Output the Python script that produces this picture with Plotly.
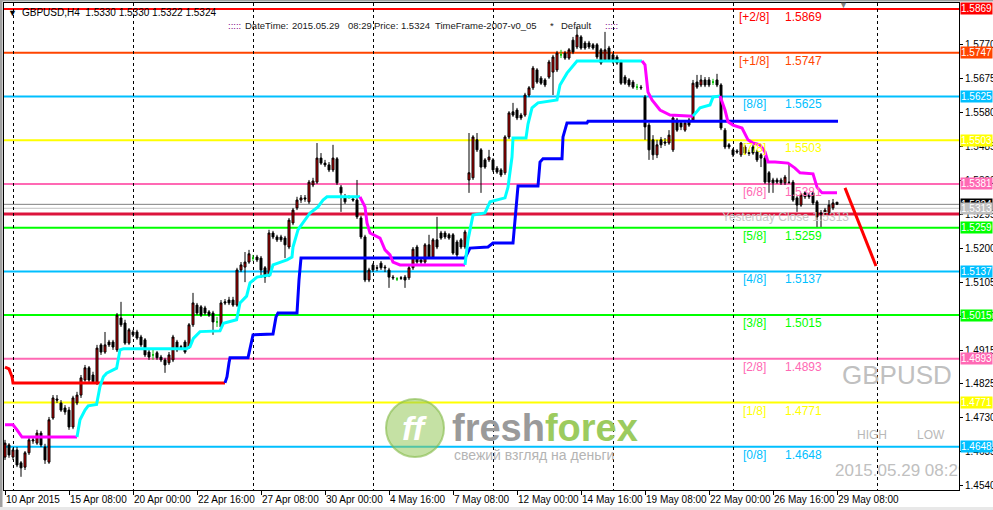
import plotly.graph_objects as go

# ---------------- DATA ----------------
bars = list(range(209))

opens = [1.4619,1.4653,1.4619,1.4639,1.4603,1.4591,1.4631,1.4664,1.4658,1.4686,
1.4647,1.4605,1.4728,1.4781,1.4770,1.4756,1.4750,1.4703,1.4770,1.4792,
1.4834,1.4868,1.4848,1.4826,1.4932,1.4912,1.4940,1.4940,1.4918,1.5007,
1.4993,1.4937,1.4968,1.4968,1.4954,1.4946,1.4912,1.4904,1.4910,1.4898,
1.4890,1.4882,1.4890,1.4940,1.4927,1.4940,1.4926,1.4988,1.5043,1.5038,
1.5035,1.5024,1.5021,1.4996,1.4982,1.5052,1.5057,1.5057,1.5043,1.5141,
1.5149,1.5163,1.5174,1.5177,1.5174,1.5147,1.5127,1.5244,1.5233,1.5233,
1.5230,1.5205,1.5272,1.5314,1.5336,1.5342,1.5331,1.5378,1.5386,1.5453,
1.5439,1.5434,1.5420,1.5451,1.5372,1.5345,1.5345,1.5339,1.5336,1.5286,
1.5233,1.5113,1.5155,1.5147,1.5160,1.5149,1.5141,1.5121,1.5116,1.5119,
1.5121,1.5119,1.5147,1.5205,1.5169,1.5163,1.5211,1.5177,1.5225,1.5244,
1.5244,1.5239,1.5239,1.5219,1.5225,1.5205,1.5392,1.5398,1.5504,1.5476,
1.5448,1.5448,1.5448,1.5425,1.5420,1.5412,1.5512,1.5582,1.5587,1.5573,
1.5573,1.5629,1.5649,1.5699,1.5676,1.5671,1.5679,1.5693,1.5699,1.5741,
1.5746,1.5732,1.5782,1.5763,1.5791,1.5774,1.5774,1.5769,1.5769,1.5755,
1.5727,1.5760,1.5741,1.5735,1.5721,1.5679,1.5671,1.5665,1.5651,1.5651,
1.5623,1.5545,1.5504,1.5462,1.5504,1.5498,1.5495,1.5476,1.5559,1.5551,
1.5531,1.5559,1.5559,1.5665,1.5657,1.5671,1.5671,1.5665,1.5671,1.5657,
1.5531,1.5490,1.5476,1.5473,1.5462,1.5484,1.5468,1.5484,1.5470,1.5462,
1.5453,1.5412,1.5392,1.5392,1.5392,1.5384,1.5386,1.5386,1.5342,1.5322,
1.5356,1.5350,1.5356,1.5331,1.5300,1.5300,1.5300,1.5314,1.5330]

highs = [1.4667,1.4658,1.4645,1.4647,1.4608,1.4636,1.4675,1.4678,1.4695,1.4692,
1.4656,1.4731,1.4792,1.4792,1.4778,1.4764,1.4759,1.4790,1.4801,1.4848,
1.4876,1.4873,1.4857,1.4932,1.4937,1.4968,1.4946,1.4946,1.5021,1.5052,
1.5002,1.4979,1.4974,1.4974,1.4960,1.4951,1.4918,1.4918,1.4915,1.4904,
1.4896,1.4912,1.4960,1.4946,1.4932,1.4946,1.4993,1.5077,1.5049,1.5043,
1.5041,1.5029,1.5027,1.5010,1.5057,1.5060,1.5066,1.5066,1.5147,1.5163,
1.5191,1.5197,1.5183,1.5183,1.5180,1.5152,1.5253,1.5250,1.5239,1.5239,
1.5236,1.5286,1.5314,1.5345,1.5350,1.5350,1.5392,1.5398,1.5495,1.5467,
1.5448,1.5442,1.5490,1.5456,1.5378,1.5353,1.5350,1.5345,1.5392,1.5292,
1.5239,1.5147,1.5160,1.5155,1.5166,1.5155,1.5147,1.5127,1.5121,1.5124,
1.5127,1.5152,1.5205,1.5211,1.5174,1.5216,1.5239,1.5230,1.5289,1.5250,
1.5250,1.5244,1.5244,1.5225,1.5230,1.5253,1.5523,1.5517,1.5523,1.5481,
1.5453,1.5476,1.5453,1.5431,1.5425,1.5517,1.5584,1.5607,1.5593,1.5579,
1.5635,1.5654,1.5710,1.5704,1.5682,1.5676,1.5727,1.5741,1.5752,1.5755,
1.5752,1.5760,1.5791,1.5819,1.5796,1.5780,1.5780,1.5774,1.5774,1.5760,
1.5805,1.5766,1.5746,1.5741,1.5727,1.5685,1.5676,1.5671,1.5660,1.5657,
1.5629,1.5551,1.5517,1.5504,1.5512,1.5509,1.5531,1.5573,1.5565,1.5559,
1.5559,1.5565,1.5671,1.5685,1.5685,1.5679,1.5679,1.5674,1.5688,1.5662,
1.5537,1.5495,1.5481,1.5478,1.5498,1.5490,1.5476,1.5490,1.5476,1.5467,
1.5459,1.5417,1.5398,1.5398,1.5398,1.5406,1.5434,1.5392,1.5347,1.5356,
1.5361,1.5356,1.5361,1.5336,1.5308,1.5314,1.5336,1.5339,1.5330]

lows = [1.4611,1.4617,1.4611,1.4591,1.4564,1.4583,1.4625,1.4656,1.4653,1.4647,
1.4600,1.4600,1.4723,1.4770,1.4745,1.4737,1.4695,1.4697,1.4764,1.4784,
1.4829,1.4826,1.4823,1.4820,1.4904,1.4907,1.4926,1.4918,1.4912,1.4982,
1.4932,1.4932,1.4954,1.4946,1.4926,1.4898,1.4890,1.4890,1.4890,1.4884,
1.4854,1.4876,1.4884,1.4912,1.4921,1.4907,1.4921,1.4982,1.5015,1.5010,
1.5015,1.5010,1.4960,1.4982,1.4976,1.5043,1.5043,1.5038,1.5038,1.5135,
1.5107,1.5158,1.5166,1.5163,1.5119,1.5105,1.5121,1.5227,1.5219,1.5219,
1.5174,1.5199,1.5266,1.5308,1.5328,1.5331,1.5325,1.5372,1.5381,1.5434,
1.5428,1.5414,1.5414,1.5378,1.5303,1.5325,1.5339,1.5331,1.5283,1.5227,
1.5107,1.5107,1.5135,1.5138,1.5141,1.5135,1.5091,1.5113,1.5110,1.5113,
1.5091,1.5113,1.5141,1.5158,1.5158,1.5158,1.5172,1.5172,1.5199,1.5225,
1.5227,1.5225,1.5183,1.5177,1.5199,1.5199,1.5356,1.5392,1.5470,1.5356,
1.5423,1.5442,1.5414,1.5409,1.5400,1.5406,1.5506,1.5568,1.5559,1.5559,
1.5568,1.5623,1.5643,1.5660,1.5657,1.5651,1.5674,1.5629,1.5693,1.5732,
1.5727,1.5727,1.5743,1.5757,1.5755,1.5755,1.5757,1.5755,1.5729,1.5713,
1.5721,1.5721,1.5716,1.5713,1.5657,1.5657,1.5651,1.5646,1.5643,1.5643,
1.5504,1.5448,1.5448,1.5453,1.5481,1.5487,1.5490,1.5470,1.5526,1.5531,
1.5526,1.5540,1.5554,1.5646,1.5651,1.5651,1.5651,1.5657,1.5651,1.5531,
1.5478,1.5478,1.5456,1.5465,1.5456,1.5462,1.5459,1.5462,1.5442,1.5428,
1.5381,1.5356,1.5356,1.5381,1.5378,1.5378,1.5381,1.5331,1.5303,1.5317,
1.5339,1.5339,1.5322,1.5261,1.5261,1.5294,1.5294,1.5308,1.5322]

closes = [1.4658,1.4625,1.4639,1.4597,1.4589,1.4631,1.4667,1.4667,1.4686,1.4653,
1.4611,1.4723,1.4784,1.4778,1.4750,1.4745,1.4703,1.4784,1.4792,1.4840,
1.4868,1.4834,1.4829,1.4923,1.4912,1.4932,1.4932,1.4926,1.5015,1.4988,
1.4937,1.4974,1.4960,1.4951,1.4932,1.4904,1.4898,1.4904,1.4896,1.4890,
1.4876,1.4904,1.4954,1.4918,1.4925,1.4912,1.4988,1.5049,1.5021,1.5015,
1.5021,1.5015,1.4996,1.4996,1.5049,1.5049,1.5049,1.5043,1.5141,1.5155,
1.5163,1.5186,1.5174,1.5169,1.5141,1.5121,1.5244,1.5233,1.5225,1.5225,
1.5211,1.5280,1.5308,1.5336,1.5342,1.5339,1.5386,1.5389,1.5453,1.5439,
1.5434,1.5420,1.5453,1.5384,1.5356,1.5331,1.5345,1.5336,1.5289,1.5233,
1.5113,1.5141,1.5141,1.5146,1.5147,1.5147,1.5121,1.5119,1.5116,1.5118,
1.5113,1.5147,1.5199,1.5163,1.5163,1.5211,1.5177,1.5225,1.5205,1.5230,
1.5233,1.5230,1.5188,1.5183,1.5205,1.5247,1.5412,1.5512,1.5476,1.5428,
1.5428,1.5456,1.5420,1.5414,1.5406,1.5512,1.5579,1.5573,1.5565,1.5565,
1.5629,1.5649,1.5704,1.5665,1.5662,1.5657,1.5721,1.5735,1.5746,1.5741,
1.5732,1.5755,1.5749,1.5796,1.5760,1.5760,1.5763,1.5760,1.5735,1.5718,
1.5755,1.5727,1.5721,1.5718,1.5662,1.5662,1.5657,1.5651,1.5651,1.5649,
1.5540,1.5476,1.5462,1.5490,1.5490,1.5495,1.5517,1.5565,1.5531,1.5540,
1.5551,1.5545,1.5662,1.5651,1.5671,1.5657,1.5657,1.5665,1.5657,1.5537,
1.5484,1.5484,1.5462,1.5470,1.5495,1.5467,1.5466,1.5467,1.5448,1.5453,
1.5386,1.5386,1.5384,1.5386,1.5384,1.5400,1.5385,1.5336,1.5322,1.5350,
1.5345,1.5345,1.5328,1.5289,1.5297,1.5308,1.5322,1.5328,1.5324]

date_tick_bars = [0, 16, 32, 48, 64, 80, 96, 112, 128, 144, 160, 176, 192, 208]
date_tick_labels = ["10 Apr 2015", "15 Apr 08:00", "20 Apr 00:00", "22 Apr 16:00",
                    "27 Apr 08:00", "30 Apr 00:00", "4 May 16:00", "7 May 08:00",
                    "12 May 00:00", "14 May 16:00", "19 May 08:00", "22 May 00:00",
                    "26 May 16:00", "29 May 08:00"]
grid_bars = [2, 32, 62, 92, 122, 152, 182, 218]
price_ticks = [1.4540, 1.4635, 1.4730, 1.4825, 1.4915, 1.5010, 1.5105,
               1.5200, 1.5295, 1.5390, 1.5485, 1.5580, 1.5675, 1.5770]

mm_names = ["[+2/8]", "[+1/8]", "[8/8]", "[7/8]", "[6/8]", "[5/8]",
            "[4/8]", "[3/8]", "[2/8]", "[1/8]", "[0/8]"]
mm_values = [1.5869, 1.5747, 1.5625, 1.5503, 1.5381, 1.5259,
             1.5137, 1.5015, 1.4893, 1.4771, 1.4648]
mm_colors = ["#FF0000", "#FF4500", "#00BFFF", "#FFFF00", "#FF69B4", "#00FF00",
             "#00BFFF", "#00FF00", "#FF69B4", "#FFFF00", "#00BFFF"]

yesterday_close = 1.5313
pivot_level = 1.5297

# fast trailing line (cyan = up, magenta = down)
dn1_x = [0, 2, 3, 4.25, 18]
dn1_y = [1.4709, 1.4709, 1.4695, 1.4675, 1.4675]
up1_x = [18, 18.75, 20, 20.8, 22.9, 23.75, 24.6, 25.4, 27.9, 28.3, 28.75, 29.6, 45.4,
         46.25, 47.1, 48.75, 53.75, 54.6, 57.9, 58.75, 60.4, 61.25, 63, 66.25, 67,
         70.5, 71.75, 72, 73.25, 73.75, 76.25, 78.25, 79.5, 80.5, 88.75]
up1_y = [1.4675, 1.4723, 1.4750, 1.4762, 1.4766, 1.4816, 1.4843, 1.4853, 1.4867, 1.4890,
         1.4918, 1.4921, 1.4921, 1.4927, 1.4950, 1.4969, 1.4971, 1.4992, 1.5002, 1.5049,
         1.5068, 1.5105, 1.5121, 1.5127, 1.5155, 1.5169, 1.5177, 1.5205, 1.5253, 1.5261,
         1.5300, 1.5317, 1.5336, 1.5345, 1.5345]
dn2_x = [88.75, 90, 90.5, 91.25, 93.75, 95, 96.25, 97, 98.75, 115]
dn2_y = [1.5345, 1.5317, 1.5272, 1.5244, 1.5230, 1.5197, 1.5183, 1.5163, 1.5155, 1.5155]
up3_x = [115, 115.75, 117, 120, 121.25, 125, 125.75, 126.75, 127, 130.25, 130.75,
         131.75, 133.25, 138, 138.75, 140.5, 143, 159.25]
up3_y = [1.5155, 1.5225, 1.5294, 1.5300, 1.5331, 1.5342, 1.5372, 1.5456, 1.5509, 1.5509,
         1.5548, 1.5593, 1.5607, 1.5615, 1.5657, 1.5690, 1.5724, 1.5724]
dn4_x = [159.25, 160, 160.75, 161.75, 163.75, 166.25, 172]
dn4_y = [1.5724, 1.5713, 1.5637, 1.5615, 1.5587, 1.5573, 1.5570]
up5_x = [172, 173.75, 176.25, 177, 178.75]
up5_y = [1.5570, 1.5593, 1.5601, 1.5623, 1.5626]
dn6_x = [178.75, 180, 180.75, 182, 184.25, 185.75, 187, 188.75, 190, 190.75, 192.5,
         195.75, 197.5, 198.75, 202, 203, 204.25, 208]
dn6_y = [1.5626, 1.5587, 1.5554, 1.5545, 1.5537, 1.5504, 1.5495, 1.5490, 1.5470, 1.5442,
         1.5442, 1.5439, 1.5425, 1.5412, 1.5409, 1.5372, 1.5356, 1.5356]

# slow trailing line (red = down, blue = up)
slow_dn_x = [0, 1, 1.75, 2, 55]
slow_dn_y = [1.4870, 1.4865, 1.4843, 1.4826, 1.4826]
slow_up_x = [55, 55.5, 56, 56.25, 60.75, 61.25, 62, 67, 67.75, 68.25, 73, 73.5, 74, 115,
             116.25, 120.75, 122, 127, 127.5, 128, 128.25, 133.25, 133.75, 134.5, 139.25,
             139.5, 140.5, 145.5, 145.75, 208.25]
slow_up_y = [1.4826, 1.4843, 1.4882, 1.4896, 1.4896, 1.4926, 1.4960, 1.4962, 1.5010, 1.5021,
             1.5021, 1.5113, 1.5174, 1.5174, 1.5202, 1.5205, 1.5216, 1.5216, 1.5289, 1.5364,
             1.5375, 1.5375, 1.5442, 1.5451, 1.5451, 1.5512, 1.5551, 1.5551, 1.5556, 1.5556]

forecast_x = [210, 217.75]
forecast_y = [1.5370, 1.5152]

# ---------------- FIGURE ----------------
FONT = "Liberation Sans, Arial, sans-serif"
L, R, T, B = 4, 34, 3, 20
W, H = 993, 510
PW, PH = W - L - R, H - T - B


def px(x):
    return (x - L) / PW


def py(y):
    return (H - B - y) / PH


fig = go.Figure()

doji = [i for i in bars if opens[i] == closes[i]]
body = [i for i in bars if opens[i] != closes[i]]

fig.add_trace(go.Candlestick(
    x=[bars[i] for i in body], open=[opens[i] for i in body], high=[highs[i] for i in body],
    low=[lows[i] for i in body], close=[closes[i] for i in body],
    increasing=dict(line=dict(color="black", width=1), fillcolor="#E00000"),
    decreasing=dict(line=dict(color="black", width=1), fillcolor="black"),
    whiskerwidth=0, hoverinfo="skip"))
fig.add_trace(go.Candlestick(
    x=[bars[i] for i in doji], open=[opens[i] for i in doji], high=[highs[i] for i in doji],
    low=[lows[i] for i in doji], close=[closes[i] for i in doji],
    increasing=dict(line=dict(color="#00C000", width=1)),
    decreasing=dict(line=dict(color="#00C000", width=1)),
    whiskerwidth=0, hoverinfo="skip"))

# watermark date (clipped by plot area)
fig.add_trace(go.Scatter(x=[207.5], y=[1.4578], mode="text", text=["2015.05.29 08:29"],
                         textposition="middle right", cliponaxis=True,
                         textfont=dict(family=FONT, size=17, color="#C0C0C0"),
                         hoverinfo="skip"))

def line(xs, ys, color, w=3):
    fig.add_trace(go.Scatter(x=xs, y=ys, mode="lines", line=dict(color=color, width=w),
                             hoverinfo="skip"))

line(slow_dn_x, slow_dn_y, "#FF0000")
line(slow_up_x, slow_up_y, "#0000FF")
line(dn1_x, dn1_y, "#FF00FF")
line(up1_x, up1_y, "#00FFFF")
line(dn2_x, dn2_y, "#FF00FF")
line(up3_x, up3_y, "#00FFFF")
line(dn4_x, dn4_y, "#FF00FF")
line(up5_x, up5_y, "#00FFFF")
line(dn6_x, dn6_y, "#FF00FF")
line(forecast_x, forecast_y, "#FF0000")

shapes = []
for v, c in zip(mm_values, mm_colors):
    shapes.append(dict(type="line", xref="paper", x0=0, x1=1, yref="y", y0=v, y1=v,
                       line=dict(color=c, width=2), layer="below"))
shapes.append(dict(type="line", xref="paper", x0=0, x1=1, yref="y", y0=closes[-1], y1=closes[-1],
                   line=dict(color="#808080", width=1), layer="below"))
shapes.append(dict(type="line", xref="paper", x0=0, x1=1, yref="y", y0=yesterday_close,
                   y1=yesterday_close, line=dict(color="#C0C0C0", width=1), layer="below"))
shapes.append(dict(type="line", xref="paper", x0=0, x1=1, yref="y", y0=pivot_level,
                   y1=pivot_level, line=dict(color="#DC143C", width=3), layer="below"))
# window frame
shapes.append(dict(type="rect", xref="paper", yref="paper", x0=px(0), x1=px(2.5),
                   y0=py(510), y1=py(0), fillcolor="#A0A0A0", line=dict(width=0)))
shapes.append(dict(type="rect", xref="paper", yref="paper", x0=px(0), x1=px(993),
                   y0=py(1.5), y1=py(0), fillcolor="#A0A0A0", line=dict(width=0)))
shapes.append(dict(type="rect", xref="paper", yref="paper", x0=px(0), x1=px(993),
                   y0=py(510), y1=py(507), fillcolor="#E8E8E8", line=dict(width=0)))
# freshforex logo circle
shapes.append(dict(type="circle", xref="paper", yref="paper", x0=px(386), x1=px(444),
                   y0=py(457), y1=py(399), fillcolor="rgba(150,200,90,0.55)",
                   line=dict(color="rgba(130,185,70,0.6)", width=2)))

ann = []
for n, v, c in zip(mm_names, mm_values, mm_colors):
    ann.append(dict(x=187.25, y=v, xref="x", yref="y", text=n, showarrow=False,
                    xanchor="center", yanchor="middle", yshift=-8,
                    font=dict(family=FONT, size=12, color=c)))
    ann.append(dict(x=194.5, y=v, xref="x", yref="y", text=f"{v:.4f}", showarrow=False,
                    xanchor="left", yanchor="middle", yshift=-8,
                    font=dict(family=FONT, size=12, color=c)))
ann.append(dict(x=178.75, y=pivot_level, xref="x", yref="y",
                text=f"Yesterday Close {yesterday_close:.4f}", showarrow=False,
                xanchor="left", yanchor="middle", yshift=-3,
                font=dict(family=FONT, size=12, color="#C8C8C8")))

# right-axis price labels
def axis_label(v, bg, fg="white"):
    ann.append(dict(x=1, y=v, xref="paper", yref="y", text=f"{v:.4f}", showarrow=False,
                    xanchor="left", yanchor="middle", xshift=1, bgcolor=bg, borderpad=0,
                    font=dict(family=FONT, size=10, color=fg)))

for v, c in zip(mm_values, mm_colors):
    axis_label(v, c)
axis_label(closes[-1], "black")
axis_label(yesterday_close, "#C0C0C0")

# header
ann.append(dict(x=px(12), y=py(13), xref="paper", yref="paper", text="▼", showarrow=False,
                xanchor="center", yanchor="middle", font=dict(family=FONT, size=9, color="black")))
ann.append(dict(x=px(20), y=py(13), xref="paper", yref="paper",
                text=f"GBPUSD,H4  {opens[-1]:.4f} {highs[-1]:.4f} {lows[-1]:.4f} {closes[-1]:.4f}",
                showarrow=False, xanchor="left", yanchor="middle",
                font=dict(family=FONT, size=10, color="black")))
hdr2 = [(226, ":::::", "#800080"), (243, "DateTime:", "#202020"),
        (290, "2015.05.29", "#202020"), (346, "08:29", "#202020"),
        (372, "Price: 1.5324", "#202020"), (433, "TimeFrame-2007-v0_05", "#202020"),
        (548, "*", "#202020"), (559, "Default", "#202020"), (603, ":::::", "#800080")]
for xp, t, c in hdr2:
    ann.append(dict(x=px(xp), y=py(25), xref="paper", yref="paper", text=t, showarrow=False,
                    xanchor="left", yanchor="middle", font=dict(family=FONT, size=9.5, color=c)))
ann.append(dict(x=px(843), y=py(5), xref="paper", yref="paper", text="▼", showarrow=False,
                xanchor="center", yanchor="middle", font=dict(family=FONT, size=9, color="#808080")))

# watermarks
ann.append(dict(x=px(840), y=py(375), xref="paper", yref="paper", text="GBPUSD", showarrow=False,
                xanchor="left", yanchor="middle", font=dict(family=FONT, size=26, color="#C0C0C0")))
ann.append(dict(x=px(855), y=py(435), xref="paper", yref="paper", text="HIGH", showarrow=False,
                xanchor="left", yanchor="middle", font=dict(family=FONT, size=12, color="#B8B8B8")))
ann.append(dict(x=px(915), y=py(435), xref="paper", yref="paper", text="LOW", showarrow=False,
                xanchor="left", yanchor="middle", font=dict(family=FONT, size=12, color="#B8B8B8")))
ann.append(dict(x=px(415), y=py(428), xref="paper", yref="paper", text="<b><i>ff</i></b>",
                showarrow=False, xanchor="center", yanchor="middle",
                font=dict(family=FONT, size=34, color="white")))
ann.append(dict(x=px(450), y=py(428), xref="paper", yref="paper",
                text="<b><span style='color:#9A9A9A'>fresh</span><span style='color:#9CCB5E'>forex</span></b>",
                showarrow=False, xanchor="left", yanchor="middle",
                font=dict(family=FONT, size=38, color="#9A9A9A")))
ann.append(dict(x=px(452), y=py(455), xref="paper", yref="paper", text="свежий взгляд на деньги",
                showarrow=False, xanchor="left", yanchor="middle",
                font=dict(family=FONT, size=14, color="#B4B4B4")))

fig.update_layout(
    width=W, height=H, margin=dict(l=L, r=R, t=T, b=B, pad=0, autoexpand=False),
    paper_bgcolor="white", plot_bgcolor="white", showlegend=False, hovermode=False,
    shapes=shapes, annotations=ann,
    xaxis=dict(range=[-0.25, 238.5], tickmode="array", tickvals=date_tick_bars,
               ticktext=date_tick_labels, ticks="outside", ticklen=4, tickcolor="black",
               ticklabelposition="outside right", tickangle=0, automargin=False,
               showgrid=False, zeroline=False,
               showline=True, mirror=True, linecolor="black", linewidth=1,
               rangeslider=dict(visible=False),
               tickfont=dict(family=FONT, size=10, color="black"),
               minor=dict(tickmode="array", tickvals=grid_bars, showgrid=True,
                          gridcolor="black", griddash="3px,3px", gridwidth=1, ticks="")),
    yaxis=dict(range=[1.45272, 1.58856], side="right", tickmode="array",
               tickvals=price_ticks, ticktext=[f"{v:.4f}" for v in price_ticks],
               ticks="outside", ticklen=3, tickcolor="black", showgrid=False, automargin=False,
               zeroline=False, showline=True, mirror=True, linecolor="black", linewidth=1,
               tickfont=dict(family=FONT, size=10, color="black")),
)

fig.write_html("out.html", config={"displayModeBar": False},
               post_script="document.body.style.margin='0';document.body.style.padding='0';document.body.style.overflow='hidden';")
